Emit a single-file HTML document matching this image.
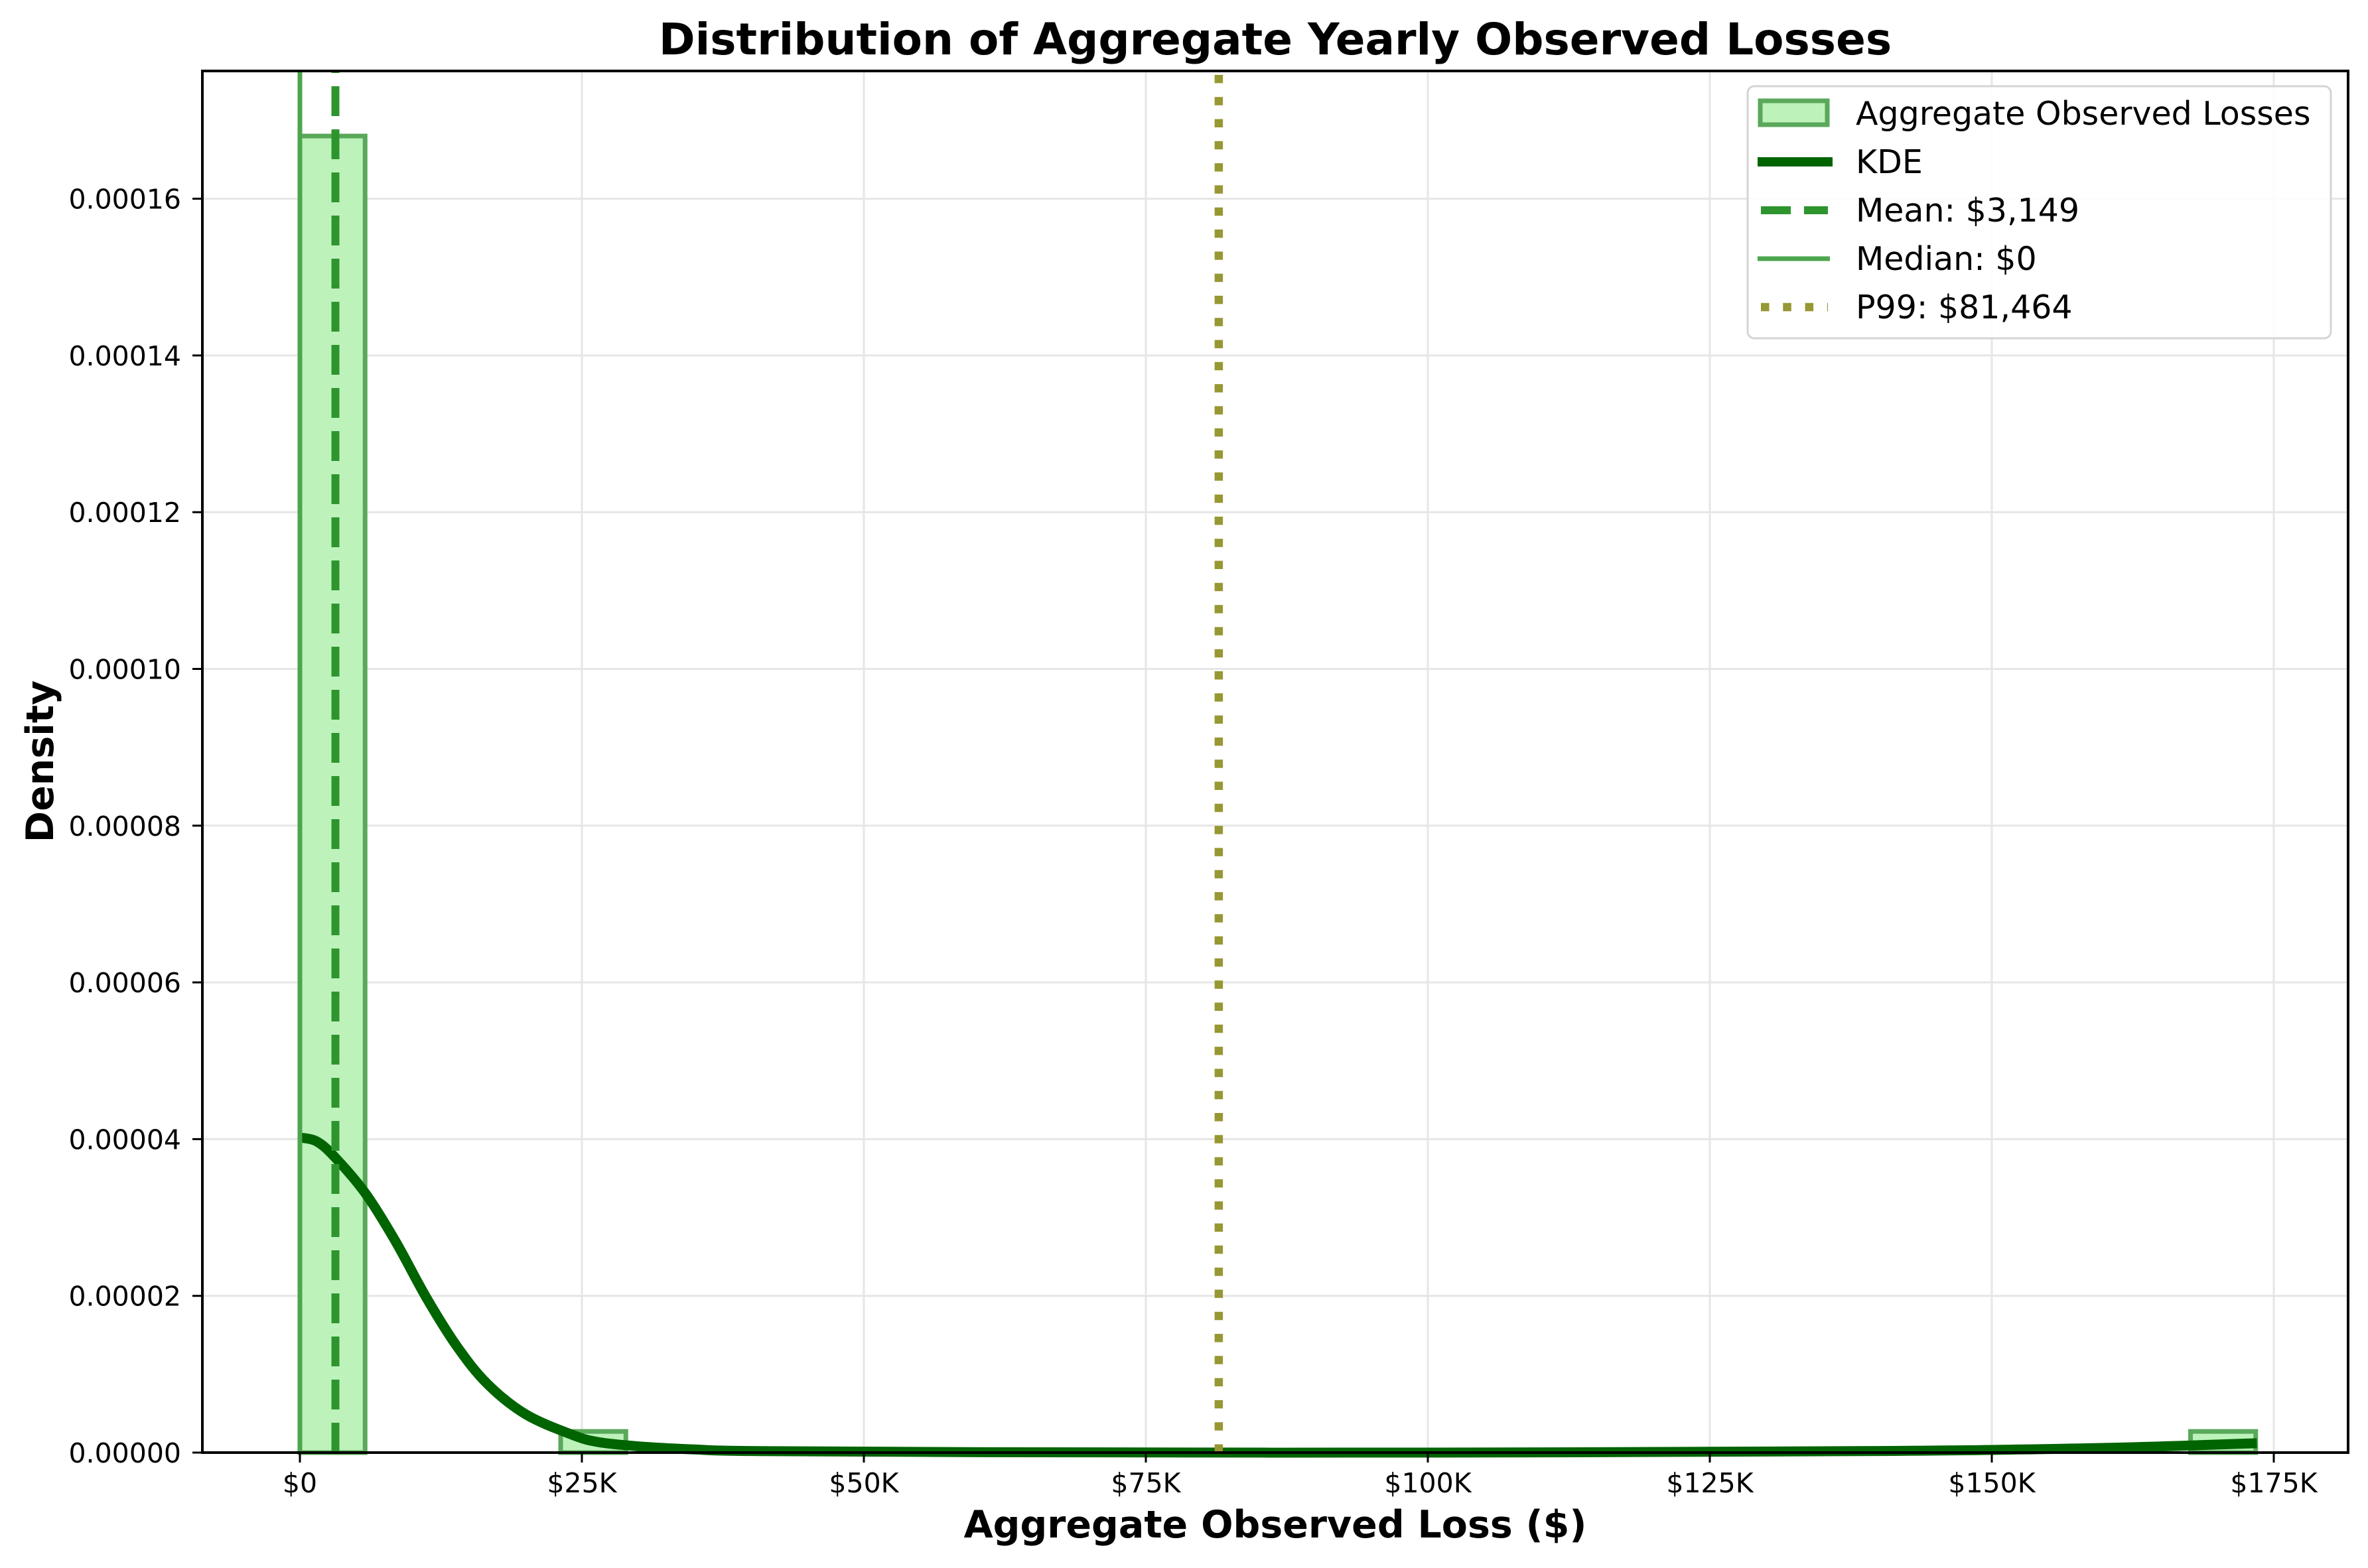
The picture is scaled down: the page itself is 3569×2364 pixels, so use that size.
<!DOCTYPE html>
<html><head><meta charset="utf-8"><style>
html,body{margin:0;padding:0;background:#fff}
svg{display:block}
text{font-family:"DejaVu Sans","Liberation Sans",sans-serif}
</style></head><body>
<svg id="chart" xmlns="http://www.w3.org/2000/svg" width="3569" height="2364" viewBox="0 0 3569 2364">
<rect width="3569" height="2364" fill="#fff"/>
<g id="grid"></g>
<g id="bars"></g>
<g id="lines"></g>
<g id="axes"></g>
<text x="1922" y="82" font-size="66" font-weight="bold" text-anchor="middle">Distribution of Aggregate Yearly Observed Losses</text>
<text x="1922" y="2318" font-size="57" font-weight="bold" text-anchor="middle">Aggregate Observed Loss ($)</text>
<text transform="translate(80,1148) rotate(-90)" font-size="57" font-weight="bold" text-anchor="middle">Density</text>
<g>
<rect x="2634" y="130" width="879" height="380" rx="10" fill="#fff" fill-opacity="0.85" stroke="#d4d4d4" stroke-width="3"/>
<rect x="2653" y="152" width="101" height="36" fill="#bdf2bb" stroke="#5aa85a" stroke-width="7"/>
<line x1="2649" y1="244" x2="2762" y2="244" stroke="#006400" stroke-width="14"/>
<line x1="2654" y1="317" x2="2755" y2="317" stroke="#2e952e" stroke-width="12" stroke-dasharray="45,20"/>
<line x1="2649" y1="390" x2="2758" y2="390" stroke="#4ca64c" stroke-width="7"/>
<line x1="2654" y1="463" x2="2755" y2="463" stroke="#979733" stroke-width="12.5" stroke-dasharray="12.5,20.8"/>
<text x="2797" y="188" font-size="49">Aggregate Observed Losses</text>
<text x="2797" y="261" font-size="49">KDE</text>
<text x="2797" y="334" font-size="49">Mean: $3,149</text>
<text x="2797" y="407" font-size="49">Median: $0</text>
<text x="2797" y="480" font-size="49">P99: $81,464</text>
</g>
</svg>
<script>
const xTicks=[0,25000,50000,75000,100000,125000,150000,175000];
const xTickLabels=["$0","$25K","$50K","$75K","$100K","$125K","$150K","$175K"];
const yTicks=[0,0.00002,0.00004,0.00006,0.00008,0.0001,0.00012,0.00014,0.00016];
const yTickLabels=["0.00000","0.00002","0.00004","0.00006","0.00008","0.00010","0.00012","0.00014","0.00016"];
const binStart=0;
const binWidth=5780;
const binDensity=[0.000168,0,0,0,0.0000027,0,0,0,0,0,0,0,0,0,0,0,0,0,0,0,0,0,0,0,0,0,0,0,0,0.0000027];
const kdeX=[0,1500,3100,5800,8500,11200,13900,16600,20000,24100,26400,30000,35000,40000,60000,100000,140000,160000,173500];
const kdeY=[0.0000402,0.0000397,0.0000377,0.0000331,0.0000269,0.0000198,0.0000136,0.0000088,0.0000049,0.0000023,0.00000135,0.0000008,0.0000004,0.0000002,0.00000005,0,0.0000002,0.0000006,0.0000012];
const meanVal=3149, medianVal=0, p99Val=81464;

const L=305,R=3539,T=107,B=2190;
const X0=452, PX25=425;
const sx=v=>X0+v/25000*PX25;
const sy=v=>B-v/0.00002*236.3;
const NS="http://www.w3.org/2000/svg";
function mk(tag,attrs,parent){const e=document.createElementNS(NS,tag);for(const k in attrs)e.setAttribute(k,attrs[k]);parent.appendChild(e);return e;}
const grid=document.getElementById('grid'),bars=document.getElementById('bars'),lines=document.getElementById('lines'),axes=document.getElementById('axes');
xTicks.forEach((v,i)=>{
  const g=mk('line',{x1:sx(v),x2:sx(v),y1:T,y2:B,stroke:'#e6e6e6','stroke-width':3},grid);
  
  
  const t=mk('line',{x1:sx(v),x2:sx(v),y1:B,y2:B+15,stroke:'#000','stroke-width':3},axes);
  
  
  const l=mk('text',{x:sx(v),y:2250,'font-size':41,'text-anchor':'middle'},axes);
  l.textContent=xTickLabels[i];
  
  
});
yTicks.forEach((v,i)=>{
  const g=mk('line',{x1:L,x2:R,y1:sy(v),y2:sy(v),stroke:'#e6e6e6','stroke-width':3},grid);
  
  
  const t=mk('line',{x1:L-15,x2:L,y1:sy(v),y2:sy(v),stroke:'#000','stroke-width':3},axes);
  
  
  const l=mk('text',{x:273,y:sy(v)+15,'font-size':41,'text-anchor':'end'},axes);
  l.textContent=yTickLabels[i];
  
  
});
binDensity.forEach((d,i)=>{
  const x0=sx(binStart+i*binWidth),x1=sx(binStart+(i+1)*binWidth);
  const r=mk('rect',{x:x0,y:sy(d),width:x1-x0,height:B-sy(d),fill:'#bdf2bb',stroke:'#5aa85a','stroke-width':7},bars);
  
  
});
// smooth Catmull-Rom path through KDE points
const P=kdeX.map((x,i)=>[sx(x),sy(kdeY[i])]);
let d='M'+P[0][0]+','+P[0][1];
for(let i=0;i<P.length-1;i++){
  const p0=P[i-1]||P[i],p1=P[i],p2=P[i+1],p3=P[i+2]||P[i+1];
  const c1=[p1[0]+(p2[0]-p0[0])/6,p1[1]+(p2[1]-p0[1])/6];
  const c2=[p2[0]-(p3[0]-p1[0])/6,p2[1]-(p3[1]-p1[1])/6];
  d+=' C'+c1[0]+','+c1[1]+' '+c2[0]+','+c2[1]+' '+p2[0]+','+p2[1];
}
const kde=mk('path',{d:d,fill:'none',stroke:'#006400','stroke-width':15},lines);


const mean=mk('line',{x1:sx(meanVal),x2:sx(meanVal),y1:B,y2:T,stroke:'#2e952e','stroke-width':12,'stroke-dasharray':'45,20'},lines);


const med=mk('line',{x1:sx(medianVal),x2:sx(medianVal),y1:B,y2:T,stroke:'#4ca64c','stroke-width':7},lines);


const p99=mk('line',{x1:sx(p99Val),x2:sx(p99Val),y1:B,y2:T,stroke:'#979733','stroke-width':12.5,'stroke-dasharray':'12.5,20.8'},lines);


const frame=mk('rect',{x:L,y:T,width:R-L,height:B-T,fill:'none',stroke:'#000','stroke-width':4},axes);


</script>
</body></html>
